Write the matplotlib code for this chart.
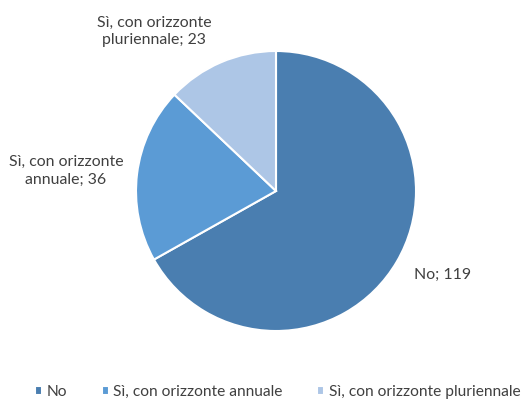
import numpy as np
import matplotlib
matplotlib.use('Agg')
import matplotlib.pyplot as plt

plt.rcParams['font.family'] = ['Lato', 'DejaVu Sans']

categories = ['No', 'Sì, con orizzonte annuale', 'Sì, con orizzonte pluriennale']
values = [119, 36, 23]
data_labels = ['No; 119', 'Sì, con orizzonte\nannuale; 36', 'Sì, con orizzonte\npluriennale; 23']
colors = ['#4A7EB0', '#5B9BD5', '#ADC6E6']

# label distance (in radii) and angle tweak (deg) per slice, Excel "best fit"-like
label_dist = [1.332, 1.507, 1.434]
label_shift = [3.6, 1.5, 14.1]

fig = plt.figure(figsize=(5.32, 4.01), dpi=100)
ax = fig.add_axes([0, 0, 1, 1])

R = 140.0  # pie radius in pixels
cx, cy = 276.0, 210.0  # centre in pixels from bottom-left
wedges, _ = ax.pie(values, colors=colors, startangle=90, counterclock=False,
                   wedgeprops=dict(edgecolor='white', linewidth=1.5))
ax.set_xlim(-cx / R, (532 - cx) / R)
ax.set_ylim(-cy / R, (401 - cy) / R)
ax.set_aspect('equal')
ax.axis('off')

for w, lab, d, s in zip(wedges, data_labels, label_dist, label_shift):
    ang = np.deg2rad((w.theta1 + w.theta2) / 2 + s)
    ax.text(d * np.cos(ang), d * np.sin(ang), lab, ha='center', va='center',
            fontsize=11.4, color='#404040', linespacing=1.35, clip_on=False)

fig.legend(wedges, categories, ncol=3, loc='center left',
           bbox_to_anchor=(0.04, 0.022), frameon=False, fontsize=11.2,
           handlelength=0.45, handleheight=0.45, handletextpad=0.3,
           columnspacing=2.2, labelcolor='#404040')

fig.savefig('out.png', dpi=100)
